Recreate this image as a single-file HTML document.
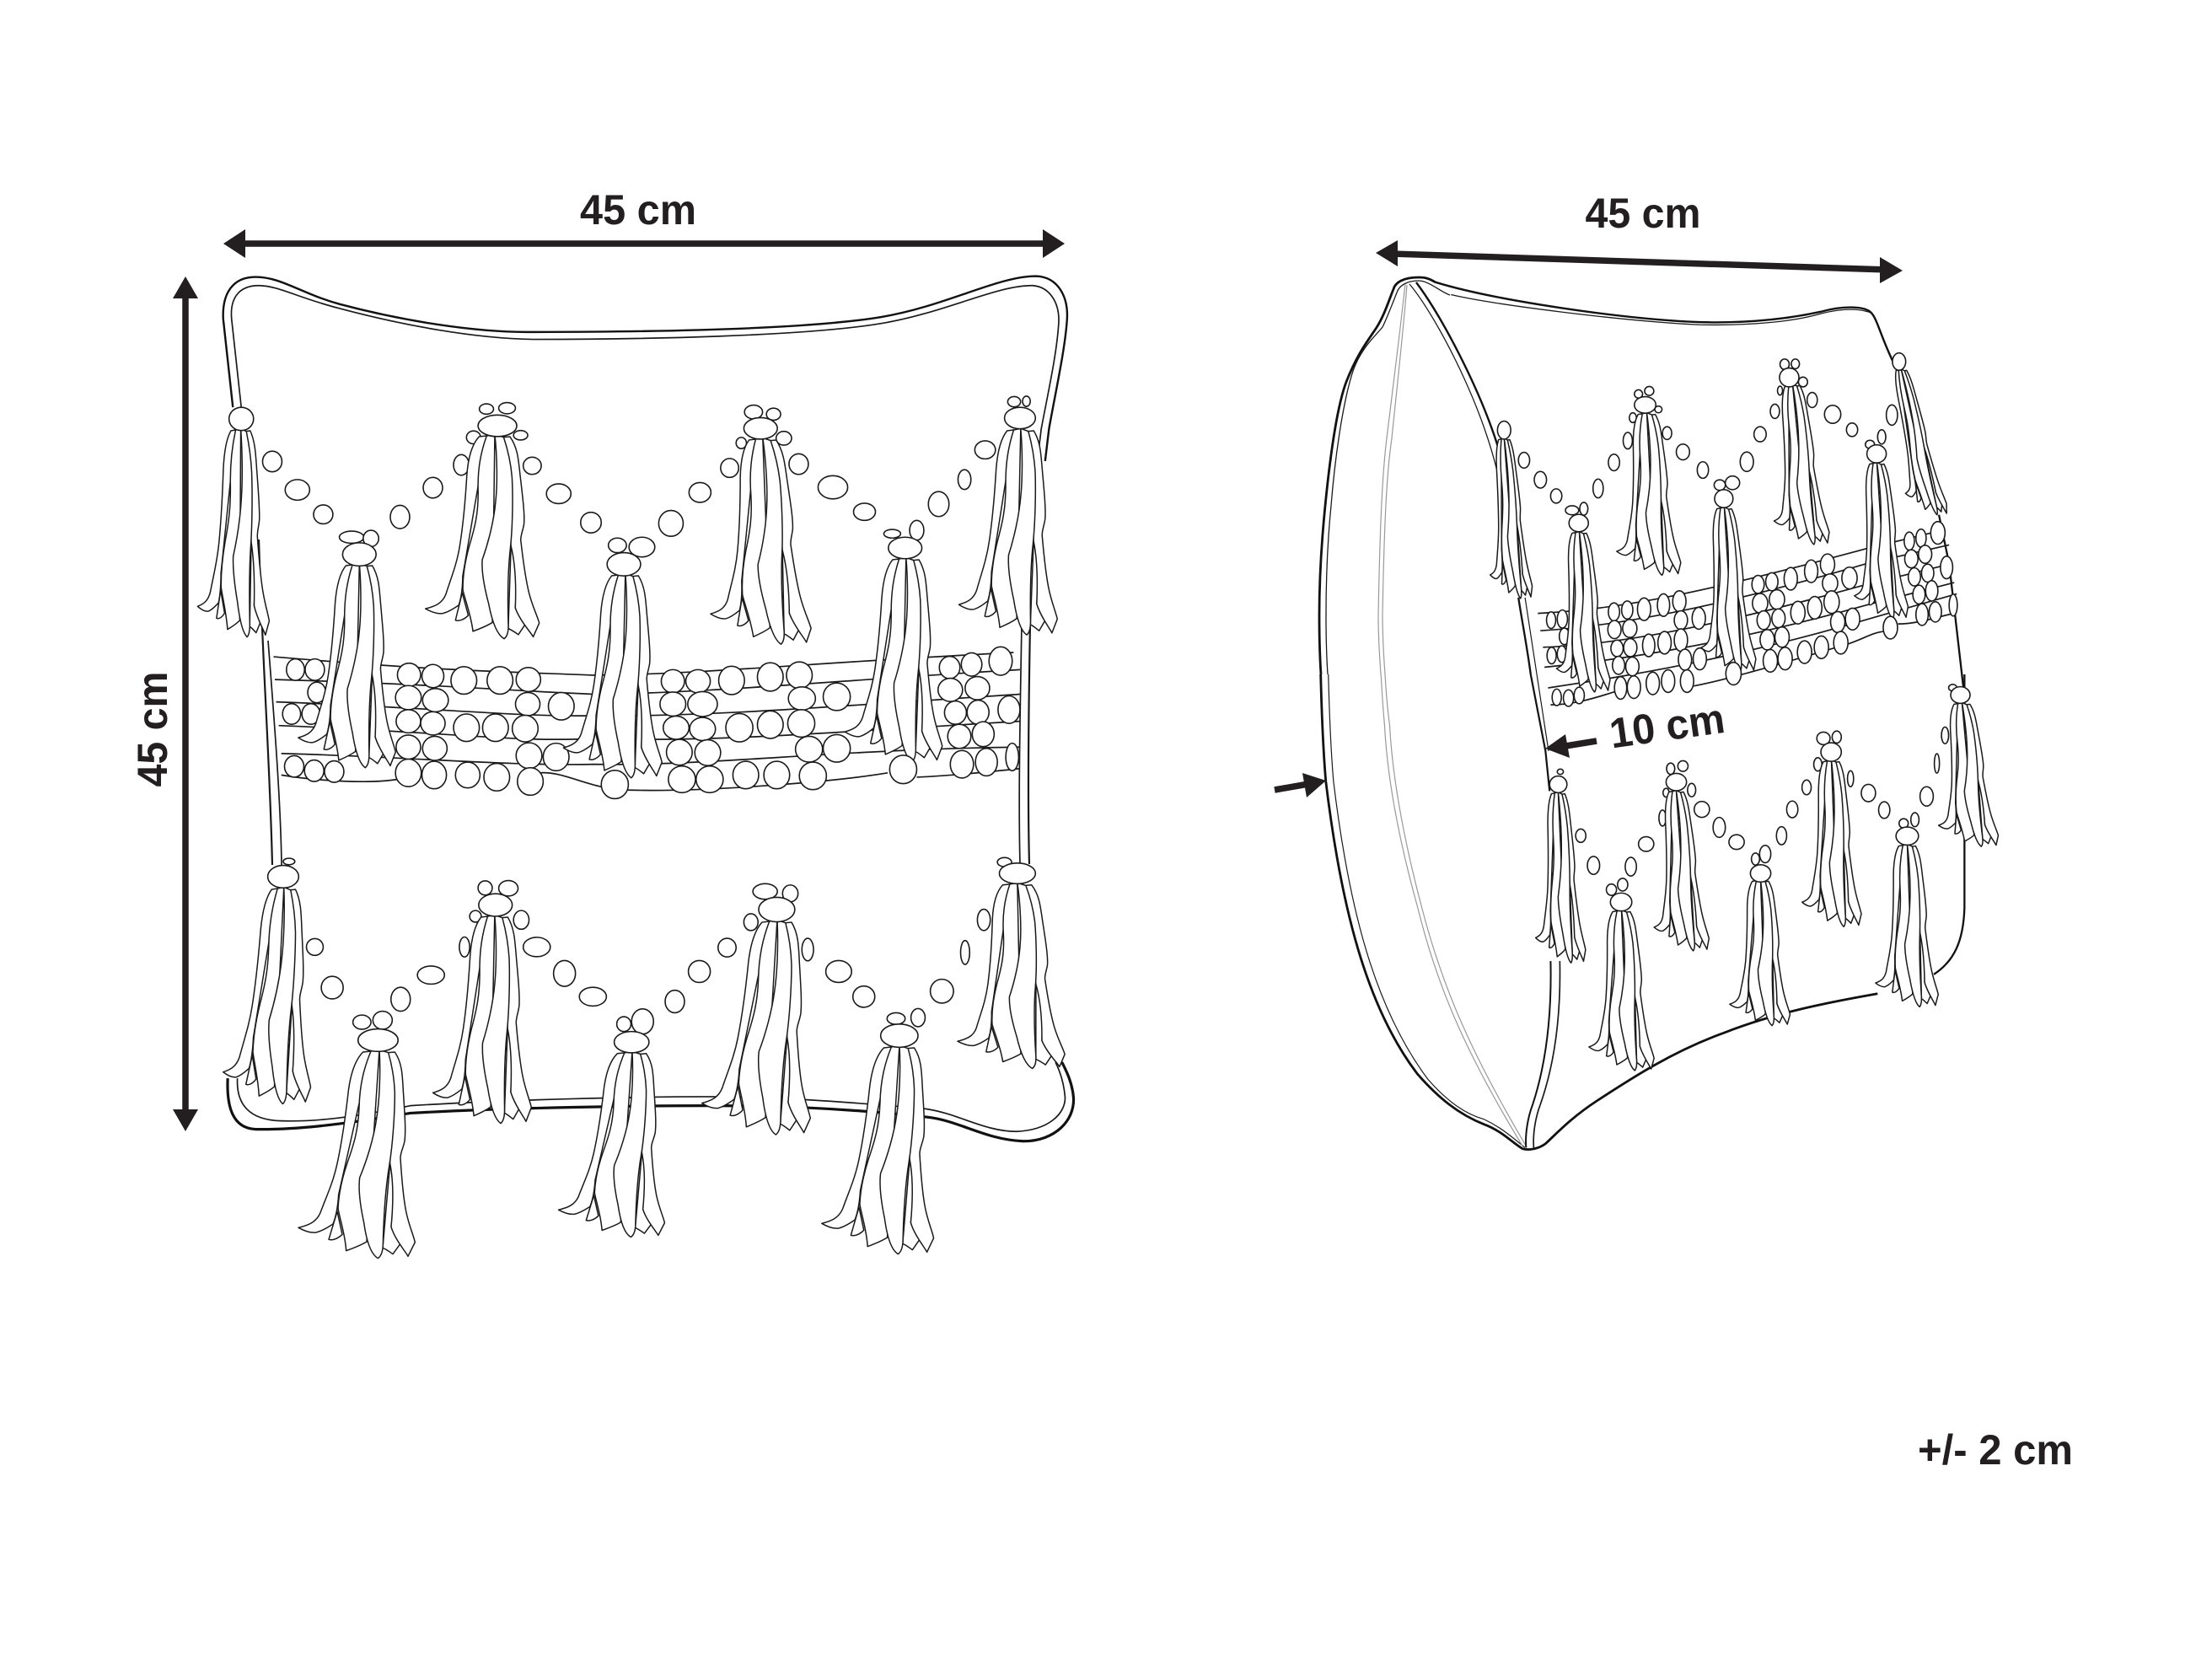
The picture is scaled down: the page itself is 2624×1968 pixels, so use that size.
<!DOCTYPE html>
<html><head><meta charset="utf-8"><title>Pillow dimensions</title>
<style>
html,body{margin:0;padding:0;background:#fff}
svg{display:block}
svg *{vector-effect:non-scaling-stroke}
.o{fill:none;stroke:#1a1a1a;stroke-width:1.7}
.k{fill:none;stroke:#111;stroke-width:3.2}
.g{fill:none;stroke:#999;stroke-width:1.2}
.e ellipse{fill:#fff;stroke:#1a1a1a;stroke-width:1.6}
.t path{fill:#fff;stroke:#1a1a1a;stroke-width:1.5;stroke-linejoin:round}
text{font-family:"Liberation Sans",sans-serif;font-weight:700;font-size:50px;fill:#231f20}
.a{fill:#231f20;stroke:none}
.l{stroke:#231f20;stroke-width:7.5;fill:none}
</style></head><body>
<svg xmlns="http://www.w3.org/2000/svg" width="2624" height="1968" viewBox="0 0 2624 1968">
<rect width="2624" height="1968" fill="#fff"/>
<defs>
<g id="t" class="t"><g transform="scale(.3333) translate(-327,-197)">
<path d="M180,770L150,870C165,875 185,865 198,852Z"/>
<path d="M368,600C380,660 385,740 372,825C380,850 395,870 405,885L378,922C368,915 355,905 342,900Z"/>
<path d="M362,205L385,203C410,240 412,280 415,340C420,420 425,480 420,520C415,545 405,560 405,580C410,660 415,720 425,770C435,820 450,850 457,880L432,930C425,915 385,870 372,825C380,740 380,660 368,600Z"/>
<path d="M272,203C245,230 228,280 220,340C210,430 195,530 180,600C165,670 140,720 120,775C105,810 75,820 42,828C60,838 85,848 105,845C125,840 150,825 165,815C175,790 182,760 185,710L300,200Z"/>
<path d="M300,200C275,260 260,320 258,400C255,480 240,530 215,600C195,660 185,710 183,760C190,800 208,850 212,910C240,900 265,890 285,878L330,195Z"/>
<path d="M330,195C335,280 330,380 320,440C310,510 285,590 260,650C255,690 262,750 275,810C282,860 295,920 325,937C335,930 342,915 343,890C345,800 350,700 365,610C378,530 385,420 385,350C383,290 372,240 362,205Z"/>
</g></g>
</defs>

<!-- LEFT PILLOW outline -->
<g transform="translate(150,200) scale(.7653,.5102)">
<path class="k" d="M165,555L150,350C148,290 165,252 200,252C240,252 270,290 330,315C430,355 540,380 620,380C800,380 1050,375 1170,345C1270,320 1350,250 1410,250C1445,252 1460,300 1458,350C1455,420 1440,520 1430,605L1424,680" style="stroke-width:2.4"/>
<path class="o" d="M178,555L163,350C160,300 175,272 205,272C235,272 265,300 330,325C430,365 540,395 630,397C800,397 1050,390 1170,360C1270,335 1350,270 1405,272C1430,275 1447,310 1445,360C1442,430 1430,510 1418,605L1412,680"/>
</g>
<path class="o" d="M307,640C312,800 320,900 323,1026" style="stroke-width:2.2"/>
<path class="o" d="M318,760C325,850 333,950 334,1026"/>
<path class="o" d="M1222,740C1220,850 1219,950 1221,1025" style="stroke-width:2.2"/>
<path class="o" d="M1212,740C1210,850 1208,950 1210,1025"/>
<g transform="translate(150,950) scale(.7653,.3827)">
<path class="k" d="M157,860C155,950 165,1015 200,1018C260,1020 330,1005 440,968C600,950 800,945 900,945C1000,945 1100,950 1240,980C1290,990 1330,1050 1390,1055C1440,1055 1470,990 1468,920C1466,870 1455,830 1450,810"/>
<path class="o" d="M172,860C170,940 190,990 240,992C290,995 340,985 440,945C600,925 800,917 900,917C1000,917 1100,930 1240,955C1290,970 1330,1025 1380,1025C1430,1020 1455,970 1455,920C1453,870 1445,830 1440,810"/>
</g>

<!-- LEFT band + dots -->
<g transform="translate(150,200) scale(.7653,.5102)">
<path class="o" d="M228,1135C500,1170 600,1170 725,1178C900,1175 1050,1150 1375,1125"/>
<path class="o" d="M230,1188C500,1200 600,1215 725,1222C900,1220 1100,1190 1385,1165"/>
<path class="o" d="M232,1240C500,1255 600,1275 725,1272C900,1275 1100,1250 1385,1222"/>
<path class="o" d="M236,1295C500,1310 600,1335 725,1325C900,1335 1100,1310 1385,1285"/>
<path class="o" d="M240,1360C400,1365 600,1390 725,1385C900,1390 1100,1350 1385,1345"/>
<path class="o" d="M240,1410C300,1425 380,1430 420,1420M640,1405C680,1400 720,1445 780,1445C900,1450 1100,1425 1180,1405M1225,1415C1300,1410 1350,1400 1385,1395"/>
<g class="e">
<ellipse cx="262" cy="1165" rx="14" ry="25"/><ellipse cx="292" cy="1165" rx="15" ry="25"/><ellipse cx="295" cy="1218" rx="14" ry="24"/><ellipse cx="256" cy="1268" rx="14" ry="24"/><ellipse cx="286" cy="1268" rx="14" ry="24"/>
<ellipse cx="260" cy="1390" rx="15" ry="25"/><ellipse cx="291" cy="1400" rx="15" ry="25"/><ellipse cx="322" cy="1402" rx="15" ry="25"/>
<ellipse cx="438" cy="1177" rx="18" ry="27"/><ellipse cx="475" cy="1180" rx="17" ry="27"/><ellipse cx="523" cy="1190" rx="20" ry="32"/><ellipse cx="579" cy="1190" rx="20" ry="32"/><ellipse cx="623" cy="1188" rx="19" ry="28"/>
<ellipse cx="437" cy="1230" rx="20" ry="28"/><ellipse cx="479" cy="1236" rx="20" ry="27"/><ellipse cx="622" cy="1245" rx="19" ry="27"/><ellipse cx="674" cy="1250" rx="20" ry="32"/>
<ellipse cx="437" cy="1285" rx="19" ry="27"/><ellipse cx="475" cy="1290" rx="19" ry="27"/><ellipse cx="527" cy="1300" rx="20" ry="32"/><ellipse cx="572" cy="1300" rx="20" ry="32"/><ellipse cx="618" cy="1302" rx="20" ry="31"/>
<ellipse cx="437" cy="1345" rx="19" ry="28"/><ellipse cx="478" cy="1348" rx="19" ry="28"/><ellipse cx="624" cy="1365" rx="20" ry="30"/><ellipse cx="666" cy="1368" rx="20" ry="32"/>
<ellipse cx="437" cy="1405" rx="20" ry="32"/><ellipse cx="477" cy="1410" rx="19" ry="32"/><ellipse cx="529" cy="1410" rx="19" ry="30"/><ellipse cx="574" cy="1415" rx="20" ry="32"/><ellipse cx="626" cy="1425" rx="20" ry="32"/>
<ellipse cx="847" cy="1192" rx="18" ry="27"/><ellipse cx="886" cy="1192" rx="19" ry="27"/><ellipse cx="938" cy="1190" rx="20" ry="33"/><ellipse cx="998" cy="1182" rx="20" ry="33"/><ellipse cx="1043" cy="1178" rx="20" ry="31"/>
<ellipse cx="847" cy="1245" rx="20" ry="28"/><ellipse cx="893" cy="1245" rx="23" ry="29"/><ellipse cx="1047" cy="1232" rx="21" ry="27"/><ellipse cx="1101" cy="1228" rx="21" ry="32"/>
<ellipse cx="852" cy="1300" rx="20" ry="27"/><ellipse cx="893" cy="1303" rx="20" ry="27"/><ellipse cx="950" cy="1300" rx="21" ry="33"/><ellipse cx="998" cy="1293" rx="20" ry="32"/><ellipse cx="1046" cy="1290" rx="21" ry="32"/>
<ellipse cx="857" cy="1357" rx="20" ry="30"/><ellipse cx="901" cy="1358" rx="20" ry="30"/><ellipse cx="1058" cy="1350" rx="21" ry="30"/><ellipse cx="1101" cy="1348" rx="21" ry="32"/>
<ellipse cx="861" cy="1420" rx="21" ry="31"/><ellipse cx="904" cy="1420" rx="21" ry="31"/><ellipse cx="960" cy="1410" rx="20" ry="32"/><ellipse cx="1008" cy="1410" rx="20" ry="32"/><ellipse cx="1064" cy="1412" rx="21" ry="32"/>
<ellipse cx="1276" cy="1160" rx="16" ry="26"/><ellipse cx="1310" cy="1153" rx="16" ry="27"/><ellipse cx="1355" cy="1145" rx="18" ry="33"/>
<ellipse cx="1277" cy="1212" rx="19" ry="27"/><ellipse cx="1319" cy="1208" rx="19" ry="27"/>
<ellipse cx="1285" cy="1265" rx="17" ry="27"/><ellipse cx="1320" cy="1264" rx="17" ry="28"/><ellipse cx="1368" cy="1258" rx="17" ry="32"/>
<ellipse cx="1291" cy="1320" rx="18" ry="28"/><ellipse cx="1328" cy="1315" rx="17" ry="29"/>
<ellipse cx="1295" cy="1385" rx="18" ry="32"/><ellipse cx="1333" cy="1380" rx="17" ry="32"/><ellipse cx="1373" cy="1368" rx="10" ry="32"/>
<ellipse cx="226" cy="681" rx="15" ry="24"/><ellipse cx="265" cy="747" rx="19" ry="24"/><ellipse cx="305" cy="804" rx="15" ry="22"/><ellipse cx="424" cy="810" rx="15" ry="27"/><ellipse cx="475" cy="742" rx="15" ry="24"/><ellipse cx="519" cy="689" rx="12" ry="24"/><ellipse cx="629" cy="691" rx="14" ry="20"/><ellipse cx="670" cy="756" rx="19" ry="23"/><ellipse cx="720" cy="823" rx="16" ry="24"/><ellipse cx="844" cy="825" rx="19" ry="30"/><ellipse cx="889" cy="753" rx="17" ry="23"/><ellipse cx="935" cy="696" rx="14" ry="22"/><ellipse cx="1042" cy="687" rx="15" ry="24"/><ellipse cx="1095" cy="741" rx="23" ry="27"/><ellipse cx="1144" cy="798" rx="17" ry="20"/><ellipse cx="1259" cy="780" rx="16" ry="29"/><ellipse cx="1299" cy="723" rx="10" ry="23"/><ellipse cx="1331" cy="654" rx="16" ry="21"/>
<ellipse cx="558" cy="559" rx="11" ry="12"/><ellipse cx="590" cy="557" rx="13" ry="13"/><ellipse cx="538" cy="625" rx="11" ry="15"/><ellipse cx="611" cy="620" rx="11" ry="11"/>
<ellipse cx="349" cy="857" rx="19" ry="14"/><ellipse cx="379" cy="860" rx="12" ry="19"/>
<ellipse cx="761" cy="876" rx="14" ry="17"/><ellipse cx="799" cy="880" rx="20" ry="23"/>
<ellipse cx="972" cy="566" rx="14" ry="16"/><ellipse cx="1003" cy="571" rx="11" ry="14"/><ellipse cx="1019" cy="627" rx="12" ry="16"/><ellipse cx="953" cy="638" rx="8" ry="13"/>
<ellipse cx="1187" cy="849" rx="13" ry="10"/><ellipse cx="1225" cy="841" rx="11" ry="23"/>
<ellipse cx="1376" cy="542" rx="10" ry="12"/><ellipse cx="1395" cy="541" rx="6" ry="12"/>
</g></g>
<g transform="translate(150,950) scale(.7653,.3827)"><g class="e">
<ellipse cx="292" cy="453" rx="13" ry="26"/><ellipse cx="319" cy="579" rx="17" ry="35"/><ellipse cx="425" cy="615" rx="15" ry="37"/><ellipse cx="472" cy="540" rx="21" ry="28"/><ellipse cx="524" cy="453" rx="8" ry="31"/><ellipse cx="636" cy="453" rx="21" ry="30"/><ellipse cx="679" cy="535" rx="17" ry="40"/><ellipse cx="723" cy="607" rx="21" ry="29"/><ellipse cx="850" cy="622" rx="15" ry="35"/><ellipse cx="888" cy="529" rx="17" ry="34"/><ellipse cx="931" cy="455" rx="14" ry="29"/><ellipse cx="1056" cy="461" rx="9" ry="35"/><ellipse cx="1104" cy="529" rx="20" ry="34"/><ellipse cx="1143" cy="607" rx="17" ry="33"/><ellipse cx="1264" cy="590" rx="18" ry="37"/><ellipse cx="1300" cy="470" rx="7" ry="37"/><ellipse cx="1329" cy="369" rx="10" ry="33"/>
<ellipse cx="252" cy="188" rx="9" ry="10"/>
<ellipse cx="556" cy="270" rx="11" ry="22"/><ellipse cx="592" cy="271" rx="15" ry="24"/><ellipse cx="541" cy="358" rx="9" ry="18"/><ellipse cx="612" cy="369" rx="12" ry="29"/>
<ellipse cx="365" cy="686" rx="14" ry="22"/><ellipse cx="397" cy="680" rx="15" ry="28"/>
<ellipse cx="771" cy="692" rx="11" ry="23"/><ellipse cx="800" cy="684" rx="17" ry="39"/>
<ellipse cx="990" cy="281" rx="19" ry="24"/><ellipse cx="1029" cy="287" rx="12" ry="26"/><ellipse cx="968" cy="376" rx="11" ry="26"/>
<ellipse cx="1193" cy="675" rx="14" ry="18"/><ellipse cx="1227" cy="672" rx="11" ry="28"/>
<ellipse cx="1361" cy="190" rx="11" ry="14"/>
</g></g>

<!-- LEFT tassels -->
<use href="#t" transform="translate(285,509) skewX(2) scale(.61,1)"/>
<use href="#t" transform="translate(586,516) skewX(3) scale(.97,.98)"/>
<use href="#t" transform="translate(425.5,669) skewX(2) scale(.83,.98)"/>
<use href="#t" transform="translate(741,681) skewX(2) scale(.84,.98)"/>
<use href="#t" transform="translate(904,520) skewX(5.4) scale(.85,.99)"/>
<use href="#t" transform="translate(1074,662) skewX(2) scale(.83,.98)"/>
<use href="#t" transform="translate(1210,509) skewX(2) scale(.84,.99)"/>
<use href="#t" transform="translate(336,1053) scale(.75,1.04)"/>
<use href="#t" transform="translate(586,1086) skewX(2) scale(.84,1)"/>
<use href="#t" transform="translate(449,1246)"/>
<use href="#t" transform="translate(749,1248) scale(.91,.89)"/>
<use href="#t" transform="translate(921,1092) scale(.93,1.03)"/>
<use href="#t" transform="translate(1066,1241) scale(.96,1)"/>
<use href="#t" transform="translate(1206,1048) skewX(5) scale(.91,.89)"/>

<!-- LEFT knots -->
<g transform="translate(150,200) scale(.7653,.5102)"><g class="e">
<ellipse cx="178" cy="582" rx="19" ry="27"/><ellipse cx="575" cy="598" rx="30" ry="25"/><ellipse cx="361" cy="897" rx="26" ry="27"/><ellipse cx="771" cy="920" rx="26" ry="27"/><ellipse cx="983" cy="604" rx="26" ry="25"/><ellipse cx="1207" cy="882" rx="26" ry="25"/><ellipse cx="1385" cy="580" rx="24" ry="25"/>
<ellipse cx="757" cy="1432" rx="21" ry="33"/><ellipse cx="1204" cy="1397" rx="21" ry="33"/>
</g></g>
<g transform="translate(150,950) scale(.7653,.3827)"><g class="e">
<ellipse cx="243" cy="235" rx="24" ry="35"/><ellipse cx="572" cy="323" rx="26" ry="35"/><ellipse cx="390" cy="742" rx="31" ry="35"/><ellipse cx="783" cy="748" rx="27" ry="33"/><ellipse cx="1008" cy="337" rx="28" ry="38"/><ellipse cx="1198" cy="728" rx="29" ry="36"/><ellipse cx="1381" cy="225" rx="28" ry="32"/>
</g></g>

<!-- LEFT dimensions -->
<path class="l" d="M285,289H1245"/>
<polygon class="a" points="265,289 291,272 291,306"/>
<polygon class="a" points="1263,289 1237,272 1237,306"/>
<polygon class="a" points="220,328 205,354 235,354"/>
<polygon class="a" points="220,1342 205,1316 235,1316"/>
<path class="l" d="M220,340V1320"/>
<text x="757" y="266" text-anchor="middle" textLength="138" lengthAdjust="spacingAndGlyphs">45 cm</text>
<text transform="translate(198,865) rotate(-90)" text-anchor="middle" textLength="137" lengthAdjust="spacingAndGlyphs">45 cm</text>

<!-- RIGHT PILLOW outline -->
<path class="k" style="stroke-width:2.8" d="M1703,335C1695,330 1690,329 1683,329C1665,329 1655,335 1653,343C1648,355 1642,375 1632,390C1622,405 1610,420 1597,453C1585,485 1577,550 1572,600C1568,640 1565,690 1565,730C1565,760 1566,785 1567,800"/>
<path class="o" style="stroke-width:1.3" d="M1720,350C1710,347 1695,333 1683,333C1670,333 1660,338 1657,347C1650,365 1645,378 1640,388C1632,398 1615,412 1605,440C1592,480 1583,550 1579,600C1575,640 1573,690 1573,730C1573,760 1574,785 1575,800"/>
<path class="g" d="M1667,337C1660,400 1650,480 1645,520C1640,560 1637,620 1635,730C1635,760 1637,785 1638,800M1669,338C1664,400 1655,480 1651,520C1645,560 1642,620 1640,730C1640,760 1642,785 1643,800"/>
<path class="k" style="stroke-width:2.4" d="M1680,335C1710,375 1755,460 1777,530"/>
<path class="o" style="stroke-width:1.3" d="M1672,337C1700,370 1755,470 1777,563"/>
<g transform="translate(1500,200) scale(.6061,.4464)">
<path class="k" d="M335,302C450,350 700,400 850,408C960,412 1040,395 1090,380C1130,365 1170,365 1185,380C1200,395 1205,450 1240,540" style="stroke-width:2.4"/>
<path class="o" d="M365,335C450,362 700,405 850,415C960,418 1040,405 1090,385C1130,372 1165,370 1190,385" style="stroke-width:1.3"/>
<path class="k" d="M497,1140C505,1210 515,1280 521,1344" style="stroke-width:2.3"/>
<path class="o" d="M510,1140L533,1344" style="stroke-width:1.2"/>
<path class="k" d="M1320,920L1340,1050L1368,1380" style="stroke-width:2.3"/>
</g>
<g transform="translate(1500,800) scale(.6061,.3954)">
<path class="k" style="stroke-width:2.8" d="M110,0C112,120 115,230 120,320C150,700 200,1000 300,1200C340,1270 380,1320 430,1350C465,1370 485,1405 505,1423C515,1428 535,1425 550,1408C570,1380 600,1330 650,1280C720,1210 800,1130 900,1075C1000,1015 1100,985 1200,958"/>
<path class="o" style="stroke-width:1.2" d="M125,0C127,120 130,230 135,320C165,700 215,1000 320,1215C360,1285 395,1320 430,1335C465,1360 490,1395 510,1420"/>
<path class="g" d="M228,0C231,80 233,120 235,152C240,300 260,480 300,700C340,950 400,1150 505,1415M236,0C239,80 242,120 245,152C250,300 270,480 308,700C350,950 410,1150 512,1415"/>
<path class="k" style="stroke-width:2.2" d="M521,0L550,230L558,350"/>
<path class="o" style="stroke-width:1.2" d="M533,0L556,230"/>
<path class="k" style="stroke-width:2" d="M560,860C562,1000 555,1150 525,1290C515,1330 510,1380 512,1420"/>
<path class="o" d="M578,860C580,1000 572,1150 540,1290C530,1330 525,1380 527,1420"/>
<path class="k" style="stroke-width:2.3" d="M1370,0V700C1368,800 1350,860 1310,900"/>
</g>

<!-- RIGHT band + dots -->
<g transform="translate(1500,200) scale(.6061,.4464)">
<path class="o" d="M535,1182C700,1170 850,1130 1178,1010L1330,960"/>
<path class="o" d="M540,1228C700,1215 900,1160 1178,1050L1340,1000"/>
<path class="o" d="M545,1272C700,1265 900,1210 1178,1105L1345,1050"/>
<path class="o" d="M548,1325C700,1305 900,1265 1178,1160L1350,1100"/>
<path class="o" d="M555,1380C700,1350 900,1310 1200,1190L1355,1130"/>
<path class="o" d="M560,1425C620,1425 680,1390 700,1385M840,1375C900,1360 1000,1320 1125,1270C1160,1260 1190,1230 1215,1230M1240,1210C1280,1210 1320,1190 1355,1180"/>
<g class="e">
<ellipse cx="561" cy="1200" rx="9" ry="22"/><ellipse cx="583" cy="1197" rx="10" ry="24"/><ellipse cx="587" cy="1243" rx="10" ry="22"/><ellipse cx="562" cy="1294" rx="9" ry="22"/><ellipse cx="582" cy="1290" rx="9" ry="22"/>
<ellipse cx="572" cy="1405" rx="9" ry="22"/><ellipse cx="595" cy="1407" rx="10" ry="22"/><ellipse cx="616" cy="1400" rx="10" ry="22"/>
<ellipse cx="684" cy="1178" rx="11" ry="24"/><ellipse cx="710" cy="1173" rx="11" ry="24"/><ellipse cx="743" cy="1171" rx="13" ry="30"/><ellipse cx="781" cy="1160" rx="12" ry="30"/><ellipse cx="812" cy="1150" rx="13" ry="28"/>
<ellipse cx="685" cy="1225" rx="13" ry="24"/><ellipse cx="715" cy="1222" rx="14" ry="24"/><ellipse cx="815" cy="1200" rx="13" ry="25"/><ellipse cx="850" cy="1195" rx="13" ry="29"/>
<ellipse cx="690" cy="1275" rx="12" ry="22"/><ellipse cx="716" cy="1273" rx="13" ry="24"/><ellipse cx="752" cy="1267" rx="12" ry="30"/><ellipse cx="783" cy="1260" rx="13" ry="30"/><ellipse cx="815" cy="1253" rx="13" ry="30"/>
<ellipse cx="693" cy="1320" rx="12" ry="24"/><ellipse cx="720" cy="1323" rx="13" ry="25"/><ellipse cx="823" cy="1305" rx="13" ry="28"/><ellipse cx="852" cy="1303" rx="13" ry="29"/>
<ellipse cx="697" cy="1380" rx="12" ry="30"/><ellipse cx="723" cy="1378" rx="13" ry="30"/><ellipse cx="760" cy="1368" rx="13" ry="30"/><ellipse cx="790" cy="1362" rx="13" ry="30"/><ellipse cx="827" cy="1362" rx="13" ry="30"/>
<ellipse cx="966" cy="1105" rx="12" ry="24"/><ellipse cx="993" cy="1098" rx="12" ry="24"/><ellipse cx="1030" cy="1090" rx="13" ry="30"/><ellipse cx="1070" cy="1070" rx="13" ry="30"/><ellipse cx="1102" cy="1052" rx="14" ry="28"/>
<ellipse cx="970" cy="1155" rx="15" ry="26"/><ellipse cx="1003" cy="1145" rx="15" ry="26"/><ellipse cx="1107" cy="1102" rx="15" ry="25"/><ellipse cx="1145" cy="1088" rx="15" ry="29"/>
<ellipse cx="977" cy="1200" rx="13" ry="25"/><ellipse cx="1006" cy="1195" rx="13" ry="25"/><ellipse cx="1044" cy="1180" rx="14" ry="30"/><ellipse cx="1077" cy="1167" rx="14" ry="30"/><ellipse cx="1110" cy="1152" rx="15" ry="30"/>
<ellipse cx="984" cy="1252" rx="14" ry="27"/><ellipse cx="1013" cy="1245" rx="14" ry="27"/><ellipse cx="1122" cy="1205" rx="14" ry="28"/><ellipse cx="1151" cy="1197" rx="14" ry="29"/>
<ellipse cx="990" cy="1308" rx="14" ry="30"/><ellipse cx="1019" cy="1302" rx="14" ry="30"/><ellipse cx="1057" cy="1285" rx="14" ry="30"/><ellipse cx="1090" cy="1272" rx="14" ry="30"/><ellipse cx="1128" cy="1260" rx="14" ry="30"/>
<ellipse cx="1262" cy="990" rx="10" ry="24"/><ellipse cx="1285" cy="982" rx="10" ry="24"/><ellipse cx="1318" cy="968" rx="14" ry="30"/>
<ellipse cx="1266" cy="1037" rx="13" ry="24"/><ellipse cx="1293" cy="1025" rx="13" ry="24"/>
<ellipse cx="1272" cy="1085" rx="12" ry="24"/><ellipse cx="1298" cy="1075" rx="12" ry="24"/><ellipse cx="1335" cy="1060" rx="12" ry="30"/>
<ellipse cx="1281" cy="1132" rx="12" ry="25"/><ellipse cx="1306" cy="1122" rx="12" ry="27"/>
<ellipse cx="1287" cy="1185" rx="12" ry="29"/><ellipse cx="1313" cy="1178" rx="12" ry="27"/><ellipse cx="1348" cy="1160" rx="8" ry="29"/>
<ellipse cx="508" cy="775" rx="11" ry="21"/><ellipse cx="540" cy="827" rx="12" ry="22"/><ellipse cx="571" cy="870" rx="11" ry="19"/><ellipse cx="653" cy="850" rx="10" ry="25"/><ellipse cx="684" cy="781" rx="11" ry="22"/><ellipse cx="711" cy="723" rx="9" ry="22"/><ellipse cx="788" cy="703" rx="9" ry="17"/><ellipse cx="819" cy="753" rx="13" ry="21"/><ellipse cx="858" cy="801" rx="11" ry="22"/><ellipse cx="944" cy="779" rx="13" ry="26"/><ellipse cx="970" cy="706" rx="12" ry="20"/><ellipse cx="999" cy="645" rx="9" ry="19"/><ellipse cx="1072" cy="615" rx="10" ry="20"/><ellipse cx="1112" cy="653" rx="16" ry="24"/><ellipse cx="1150" cy="694" rx="11" ry="18"/><ellipse cx="1228" cy="655" rx="11" ry="27"/>
<ellipse cx="732" cy="599" rx="8" ry="11"/><ellipse cx="753" cy="591" rx="9" ry="12"/><ellipse cx="721" cy="662" rx="7" ry="13"/><ellipse cx="771" cy="640" rx="7" ry="9"/>
<ellipse cx="602" cy="908" rx="13" ry="12"/><ellipse cx="625" cy="904" rx="8" ry="17"/>
<ellipse cx="891" cy="841" rx="11" ry="14"/><ellipse cx="916" cy="835" rx="14" ry="18"/>
<ellipse cx="1018" cy="520" rx="9" ry="14"/><ellipse cx="1039" cy="519" rx="8" ry="13"/><ellipse cx="1054" cy="567" rx="9" ry="13"/><ellipse cx="1009" cy="590" rx="5" ry="12"/>
<ellipse cx="1185" cy="733" rx="9" ry="11"/><ellipse cx="1208" cy="713" rx="8" ry="19"/>
</g></g>
<g transform="translate(1500,800) scale(.6061,.3954)"><g class="e">
<ellipse cx="619" cy="484" rx="10" ry="20"/><ellipse cx="644" cy="573" rx="12" ry="27"/><ellipse cx="717" cy="577" rx="11" ry="28"/><ellipse cx="747" cy="509" rx="15" ry="22"/><ellipse cx="779" cy="431" rx="7" ry="24"/><ellipse cx="856" cy="405" rx="15" ry="24"/><ellipse cx="890" cy="459" rx="12" ry="30"/><ellipse cx="924" cy="503" rx="15" ry="22"/><ellipse cx="1012" cy="484" rx="10" ry="27"/><ellipse cx="1033" cy="405" rx="11" ry="25"/><ellipse cx="1061" cy="339" rx="9" ry="22"/><ellipse cx="1147" cy="313" rx="6" ry="24"/><ellipse cx="1182" cy="356" rx="14" ry="26"/><ellipse cx="1213" cy="407" rx="11" ry="25"/><ellipse cx="1296" cy="366" rx="13" ry="29"/><ellipse cx="1316" cy="267" rx="5" ry="29"/><ellipse cx="1332" cy="183" rx="7" ry="25"/>
<ellipse cx="579" cy="292" rx="6" ry="8"/>
<ellipse cx="679" cy="646" rx="10" ry="17"/><ellipse cx="701" cy="631" rx="10" ry="19"/>
<ellipse cx="795" cy="283" rx="8" ry="17"/><ellipse cx="819" cy="275" rx="10" ry="16"/><ellipse cx="786" cy="355" rx="6" ry="13"/><ellipse cx="836" cy="347" rx="8" ry="20"/>
<ellipse cx="961" cy="554" rx="8" ry="18"/><ellipse cx="980" cy="539" rx="11" ry="26"/>
<ellipse cx="1094" cy="192" rx="13" ry="19"/><ellipse cx="1120" cy="188" rx="9" ry="18"/><ellipse cx="1083" cy="270" rx="8" ry="20"/>
<ellipse cx="1251" cy="447" rx="9" ry="14"/><ellipse cx="1273" cy="436" rx="8" ry="21"/>
<ellipse cx="1347" cy="40" rx="8" ry="10"/>
</g></g>

<!-- RIGHT tassels -->
<use href="#t" transform="translate(1784,520) skewX(6) scale(.35,.77)"/>
<use href="#t" transform="translate(1953,490) skewX(5.6) scale(.54,.78)"/>
<use href="#t" transform="translate(1873,631) skewX(5.7) scale(.45,.77)"/>
<use href="#t" transform="translate(2045,602) skewX(5.7) scale(.46,.79)"/>
<use href="#t" transform="translate(2126,456) skewX(7.8) scale(.46,.77)"/>
<use href="#t" transform="translate(2226,549) skewX(6) scale(.45,.75)"/>
<use href="#t" transform="translate(2255,438) skewX(14) scale(.33,.7)"/>
<use href="#t" transform="translate(1848,940) skewX(4.5) scale(.42,.82)"/>
<use href="#t" transform="translate(1923,1080) skewX(5) scale(.55,.77)"/>
<use href="#t" transform="translate(1988,938) skewX(6.3) scale(.46,.77)"/>
<use href="#t" transform="translate(2088,1044) skewX(4.8) scale(.51,.7)"/>
<use href="#t" transform="translate(2172,902) skewX(4.5) scale(.5,.8)"/>
<use href="#t" transform="translate(2262,1002) skewX(4.6) scale(.53,.78)"/>
<use href="#t" transform="translate(2327,834) skewX(7.9) scale(.5,.69)"/>

<!-- RIGHT knots -->
<g transform="translate(1500,200) scale(.6061,.4464)"><g class="e">
<ellipse cx="469" cy="695" rx="13" ry="24"/><ellipse cx="745" cy="628" rx="21" ry="22"/><ellipse cx="615" cy="942" rx="19" ry="23"/><ellipse cx="899" cy="877" rx="18" ry="24"/><ellipse cx="1027" cy="555" rx="19" ry="25"/><ellipse cx="1198" cy="758" rx="19" ry="24"/><ellipse cx="1242" cy="513" rx="13" ry="23"/>
<ellipse cx="918" cy="1342" rx="15" ry="30"/><ellipse cx="1225" cy="1220" rx="14" ry="30"/>
</g></g>
<g transform="translate(1500,800) scale(.6061,.3954)"><g class="e">
<ellipse cx="575" cy="330" rx="17" ry="25"/><ellipse cx="698" cy="683" rx="21" ry="27"/><ellipse cx="806" cy="323" rx="20" ry="26"/><ellipse cx="971" cy="597" rx="20" ry="26"/><ellipse cx="1109" cy="233" rx="20" ry="28"/><ellipse cx="1258" cy="485" rx="22" ry="27"/><ellipse cx="1362" cy="62" rx="19" ry="25"/>
</g></g>

<!-- RIGHT dimensions -->
<path class="l" d="M1650,301L2240,320"/>
<polygon class="a" points="1632,300 1658,285 1658,316"/>
<polygon class="a" points="2257,321 2230,305 2230,336"/>
<text x="1949" y="270" text-anchor="middle" textLength="137" lengthAdjust="spacingAndGlyphs">45 cm</text>
<text transform="translate(1980,878) rotate(-8)" text-anchor="middle" textLength="137" lengthAdjust="spacingAndGlyphs">10 cm</text>
<path class="l" d="M1857,885L1894,879"/>
<polygon class="a" points="1833,888 1857,871 1862,899"/>
<path class="l" d="M1512,937L1552,930"/>
<polygon class="a" points="1573,926 1545,917 1550,946"/>
<text x="2275" y="1737" textLength="184" lengthAdjust="spacingAndGlyphs">+/- 2 cm</text>
</svg>
</body></html>
